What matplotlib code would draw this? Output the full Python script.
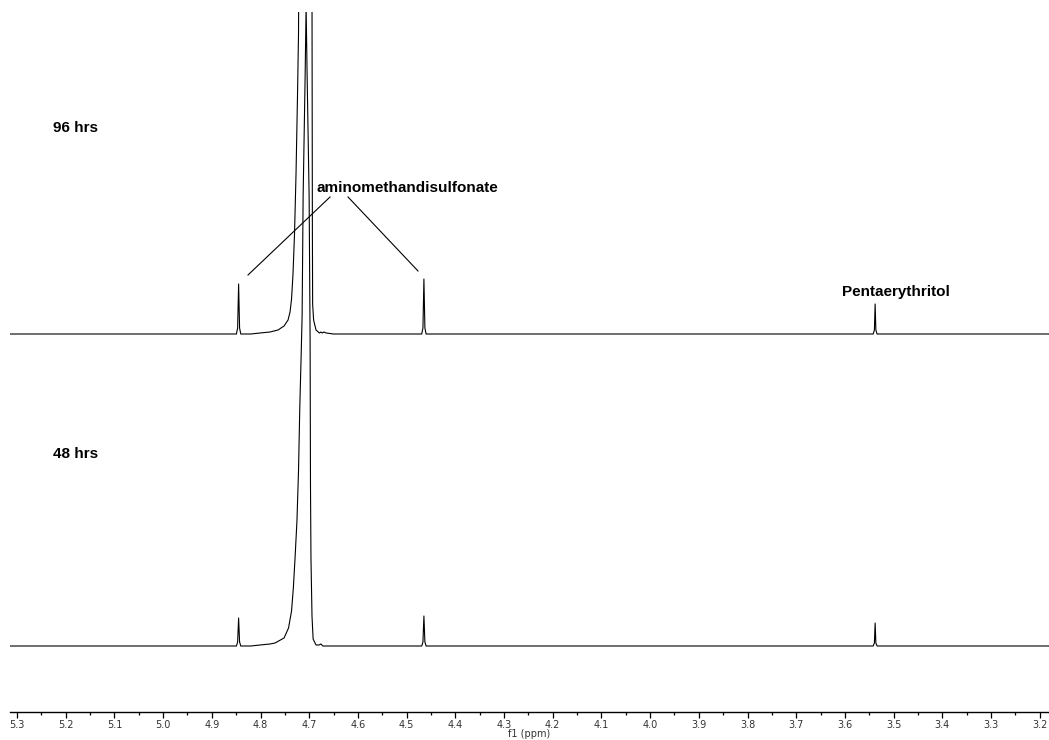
import numpy as np
import matplotlib
matplotlib.use("Agg")
from matplotlib import pyplot as plt

# 96 hrs trace (upper), intensity relative to its own baseline
ppm_96 = [5.3144, 4.8700, 4.8495, 4.8470, 4.8450, 4.8430, 4.8405, 4.8200, 4.8010,
          4.7805, 4.7641, 4.7517, 4.7435, 4.7394, 4.7363, 4.7333, 4.7302, 4.7271,
          4.7240, 4.7220, 4.7199, 4.7189, 4.7080, 4.6955, 4.6945, 4.6935, 4.6930,
          4.6910, 4.6860, 4.6790, 4.6760, 4.6730, 4.6700, 4.6650, 4.6500, 4.4690,
          4.4665, 4.4645, 4.4625, 4.4600, 3.5420, 3.5395, 3.5380, 3.5365, 3.5340,
          3.1810]
int_96 = [0, 0, 0, 6, 50, 6, 0, 0, 1,
          2, 4, 8, 14, 22, 35, 60, 100, 160,
          240, 300, 500, 700, 1500, 700, 400, 100, 30,
          14, 4, 1, 2, 1, 2, 1, 0, 0,
          6, 55, 6, 0, 0, 4, 30, 4, 0,
          0]

# 48 hrs trace (lower)
ppm_48 = [5.3144, 4.8700, 4.8495, 4.8470, 4.8450, 4.8430, 4.8405, 4.8200, 4.8010,
          4.7805, 4.7702, 4.7517, 4.7425, 4.7363, 4.7326, 4.7291, 4.7252, 4.7220,
          4.7193, 4.7166, 4.7146, 4.7125, 4.7084, 4.7064, 4.7043, 4.7002, 4.6982,
          4.6974, 4.6964, 4.6943, 4.6920, 4.6860, 4.6800, 4.6760, 4.6720, 4.6650,
          4.4690, 4.4665, 4.4645, 4.4625, 4.4600, 3.5420, 3.5395, 3.5380, 3.5365,
          3.5340, 3.1810]
int_48 = [0, 0, 0, 4, 28, 4, 0, 0, 1,
          2, 3, 8, 18, 35, 58, 88, 125, 175,
          240, 290, 330, 450, 570, 640, 570, 450, 306,
          160, 87, 30, 7, 1, 1, 2, 0, 0,
          0, 4, 30, 4, 0, 0, 3, 23, 3,
          0, 0]

offset_96 = 378
offset_48 = 66

major_ticks = np.round(np.arange(5.3, 3.15, -0.1), 2)
minor_ticks = np.round(np.arange(5.25, 3.15, -0.1), 2)

fig = plt.figure(figsize=(10.49, 7.40), dpi=100)
ax = fig.add_axes([10 / 1049, 28 / 740, 1 - 10 / 1049, 700 / 740])

ax.plot(ppm_96, np.array(int_96) + offset_96, color="black", lw=0.8)
ax.plot(ppm_48, np.array(int_48) + offset_48, color="black", lw=0.8)

ax.set_xlim(5.3144, 3.1810)
ax.set_ylim(0, 700)

for s in ["top", "left", "right"]:
    ax.spines[s].set_visible(False)
ax.spines["bottom"].set_linewidth(1.0)
ax.set_yticks([])
ax.set_xticks(major_ticks)
ax.set_xticks(minor_ticks, minor=True)
ax.set_xticklabels(["%.1f" % t for t in major_ticks], fontsize=7, color="#333333")
ax.tick_params(axis="x", which="major", length=4, width=0.9, pad=2)
ax.tick_params(axis="x", which="minor", length=2, width=0.9)
ax.set_xlabel("f1 (ppm)", fontsize=7, color="#333333", labelpad=-1)

txt = dict(family="Liberation Sans", fontsize=11, fontweight="bold", va="center", ha="left")
ax.text(5.2261, 584, "96 hrs", **txt)
ax.text(5.2261, 258, "48 hrs", **txt)
ax.text(4.6860, 524, "aminomethandisulfonate", **txt)
ax.text(3.6060, 420, "Pentaerythritol", **txt)

ax.plot([4.6573, 4.8257], [515, 437], color="black", lw=0.8)
ax.plot([4.6203, 4.4766], [515, 441], color="black", lw=0.8)

fig.savefig("out.png", dpi=100)
